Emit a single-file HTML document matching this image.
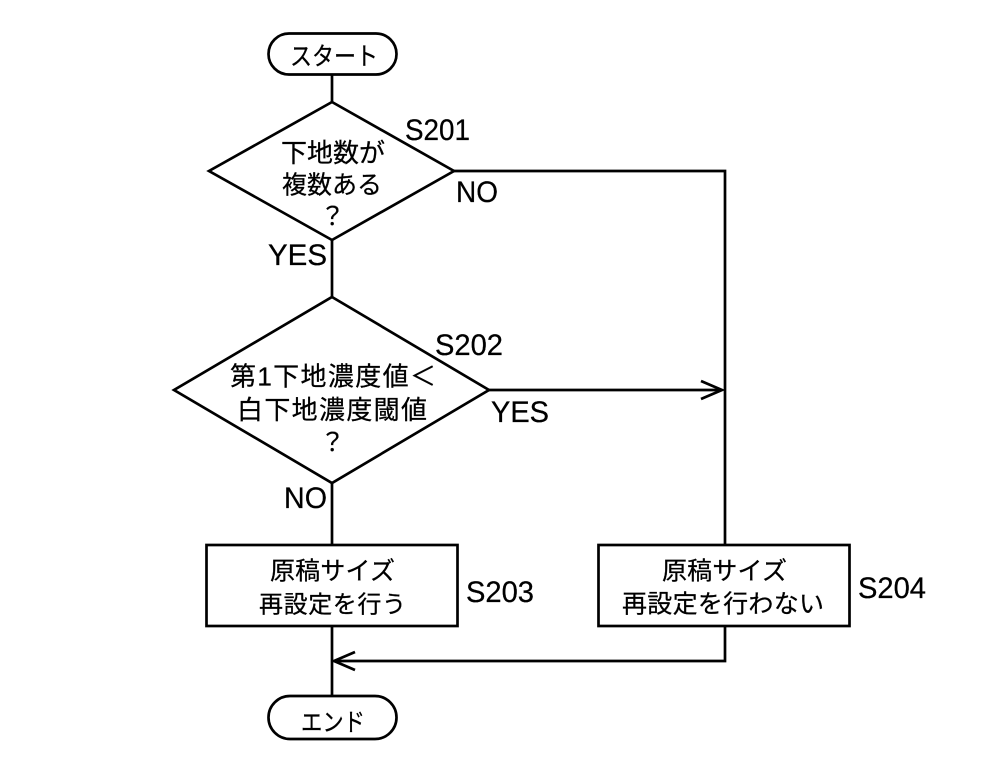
<!DOCTYPE html>
<html>
<head>
<meta charset="utf-8">
<style>
html,body{margin:0;padding:0;background:#fff;}
svg{display:block;}
text{font-family:"Liberation Sans","Noto Sans CJK JP",sans-serif;fill:#000;stroke:#000;stroke-width:0.25;}
</style>
</head>
<body>
<svg width="1004" height="768" viewBox="0 0 1004 768" xmlns="http://www.w3.org/2000/svg">
<g fill="none" stroke="#000" stroke-width="2.7">
<rect x="268.5" y="33.5" width="128" height="41" rx="20.5" ry="20.5"/>
<line x1="332" y1="74" x2="332" y2="102"/>
<polygon points="332,102 454,171 332,240 209,171"/>
<line x1="332" y1="240" x2="332" y2="297"/>
<polygon points="332,297 489,390 332,483 174,390"/>
<line x1="332" y1="483" x2="332" y2="544"/>
<rect x="206.5" y="545" width="251" height="81"/>
<line x1="332" y1="626" x2="332" y2="696"/>
<rect x="268.5" y="696" width="128" height="43" rx="21.5" ry="21.5"/>
<polyline points="454,171 725,171 725,545"/>
<line x1="489" y1="390" x2="722" y2="390"/>
<polyline points="701,381 722,390 701,399"/>
<rect x="598.5" y="545" width="251" height="81"/>
<polyline points="725,626 725,661 334,661"/>
<polyline points="355,652 334,661 355,670"/>
</g>
<g>
<text font-size="25" x="290" y="65" textLength="88" lengthAdjust="spacingAndGlyphs">スタート</text>
<text font-size="26" x="281" y="162" textLength="104">下地数が</text>
<text font-size="25" x="282" y="193.5" textLength="100">複数ある</text>
<text font-size="25" x="320" y="225">？</text>
<text font-size="26" x="230" y="385.5" textLength="206">第1下地濃度値＜</text>
<text font-size="26" x="237" y="419" textLength="190">白下地濃度閾値</text>
<text font-size="25" x="320" y="451">？</text>
<text font-size="25" x="270" y="579.5" textLength="125">原稿サイズ</text>
<text font-size="24" x="259" y="612.5" textLength="147">再設定を行う</text>
<text font-size="25" x="662" y="579.5" textLength="125">原稿サイズ</text>
<text font-size="25" x="622" y="612.5" textLength="202">再設定を行わない</text>
<text font-size="25" x="301" y="731" textLength="64" lengthAdjust="spacingAndGlyphs">エンド</text>
</g>
<g font-size="30">
<text x="405" y="140" textLength="65" lengthAdjust="spacingAndGlyphs">S201</text>
<text x="456" y="202" textLength="42" lengthAdjust="spacingAndGlyphs">NO</text>
<text x="268" y="265" textLength="59" lengthAdjust="spacingAndGlyphs">YES</text>
<text x="435" y="355" textLength="68" lengthAdjust="spacingAndGlyphs">S202</text>
<text x="491" y="422" textLength="58" lengthAdjust="spacingAndGlyphs">YES</text>
<text x="284" y="508" textLength="43" lengthAdjust="spacingAndGlyphs">NO</text>
<text x="466" y="602" textLength="68" lengthAdjust="spacingAndGlyphs">S203</text>
<text x="858" y="598" textLength="68" lengthAdjust="spacingAndGlyphs">S204</text>
</g>
</svg>
</body>
</html>
